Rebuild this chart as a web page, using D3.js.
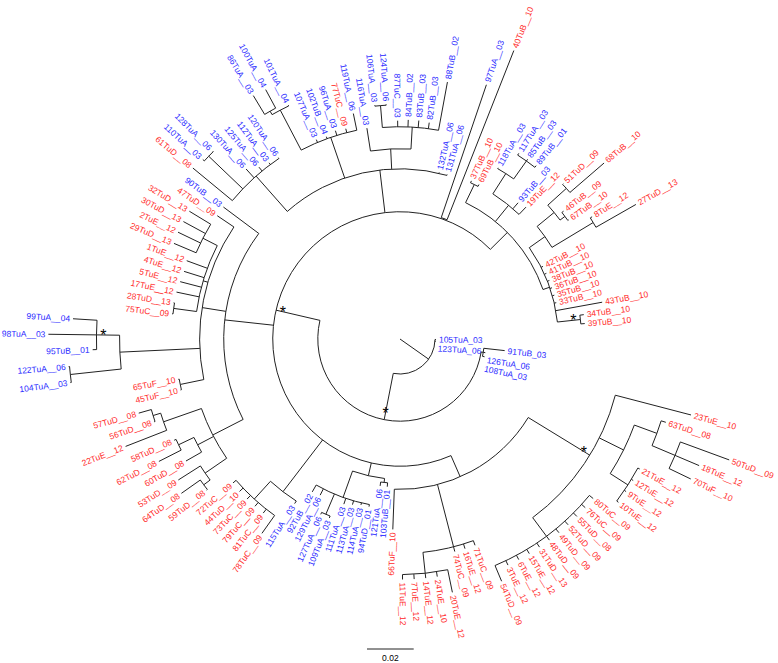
<!DOCTYPE html>
<html><head><meta charset="utf-8">
<script src="https://cdn.jsdelivr.net/npm/d3@7"></script>
<style>body{margin:0;background:#fff}svg{display:block}</style>
</head><body>
<svg id="chart" width="778" height="663"></svg>
<script>
// ---------- DATA (branch lengths in substitutions/site) ----------
const cladeLowerRight = "((23TuE__10:0.0335,((63TuD__08:0.0021,(50TuD__09:0.0223,18TuE__12:0.0112,70TuF__10:0.0103):0.0107):0.0103,(21TuE__12:0.0009,12TuE__12:0.0009,9TuE__12:0.0009,10TuE__12:0.0009):0.0090):0.0116,(80TuC__09:0.0021,76TuC__09:0.0021,55TuD__08:0.0021,52TuD__09:0.0021,49TuD__09:0.0021,48TuD__09:0.0021,31TuD__13:0.0021,15TuE__12:0.0021,6TuE__12:0.0021,3TuE__12:0.0021,54TuD__09:0.0073):0.0099)C23:0.0309,(71TuC__09:0.0021,16TuE__12:0.0021,74TuC__09:0.0021,(20TuE__12:0.0099,24TuE__10:0.0021,14TuE__12:0.0021,7TuE__12:0.0021,11TuE__12:0.0021):0.0090):0.0275,66TuF__10:0.0172):0.0099";
const cladeBottomBlue = "((103TuB__01:0.0017,121TuA__06:0.0017):0.0017,(94TuD__01:0.0009,114TuA__03:0.0009,113TuA__03:0.0017,111TuA__03:0.0026,(109TuA__03:0.0009,127TuA__06:0.0009):0.0094,129TuA__06:0.0030,92TuB__02:0.0034):0.0120):0.0056";
const cladeBottomRed = "(115TuA__03:0.0013,(78TuC__09:0.0094,81TuC__09:0.0021,79TuC__09:0.0021,73TuC__09:0.0021,44TuD__10:0.0021,72TuC__09:0.0017):0.0103):0.0279";
const cladeLeft = "((((59TuD__08:0.0004,64TuD__08:0.0099):0.0034,53TuD__09:0.0112):0.0112,(60TuD__08:0.0077,(62TuD__08:0.0107,58TuD__08:0.0009):0.0073):0.0077,(22TuE__12:0.0189,(56TuD__08:0.0004,57TuD__08:0.0056):0.0034):0.0172):0.0146,((45TuF__10:0.0004,65TuF__10:0.0004):0.0103,((104TuA__03:0.0004,122TuA__06:0.0004):0.0219,(95TuB__01:0.0017,98TuA__03:0.0206,99TuA__04:0.0103)P1:0.0099):0.0343,((75TuC__09:0.0004,28TuD__13:0.0004):0.0099,17TuE__12:0.0099,5TuE__12:0.0094,4TuE__12:0.0090,1TuE__12:0.0094,(29TuD__13:0.0103,2TuE__12:0.0107,30TuD__13:0.0107,32TuD__13:0.0107):0.0069):0.0021,47TuD__09:0.0086):0.0103,90TuB__03:0.0189):0.0210";
const cladeTop = "((61TuD__08:0.0219,(110TuA__03:0.0009,128TuA__06:0.0004):0.0202,130TuA__06:0.0051,125TuA__06:0.0021,112TuA__03:0.0009,120TuA__06:0.0004):0.0202,(((86TuA__03:0.0094,100TuA__04:0.0090):0.0017,101TuA__04:0.0004):0.0193,107TuA__03:0.0013,102TuB__04:0.0009,96TuA__03:0.0021,77TuC__09:0.0017,119TuA__06:0.0073):0.0184,(116TuA__03:0.0099,((106TuA__03:0.0004,124TuA__06:0.0004):0.0094,87TuC__03:0.0026,84TuB__02:0.0030,83TuB__03:0.0030,82TuB__03:0.0026,88TuB__02:0.0210):0.0094):0.0086,132TuA__06:0.0004,131TuA__06:0.0004):0.0184";
const cladeLong = "(97TuA__03:0.0601,40TuB__10:0.0779):0.0004";
const cladeTopRight = "((37TuB__10:0.0009,69TuB__10:0.0009):0.0086,((118TuA__03:0.0004,(117TuA__03:0.0009,85TuB__03:0.0009,89TuB__01:0.0009):0.0094):0.0103,93TuB__03:0.0034,19TuE__12:0.0043):0.0090,((((51TuD__09:0.0004,68TuB__10:0.0193):0.0107,(46TuB__09:0.0009,67TuB__10:0.0004):0.0026):0.0094,(8TuE__12:0.0009,27TuD__13:0.0197):0.0206):0.0082,42TuB__10:0.0009,41TuB__10:0.0009,38TuB__10:0.0009,36TuB__10:0.0009,35TuB__10:0.0009,33TuB__10:0.0009,43TuB__10:0.0202,(34TuB__10:0.0017,39TuB__10:0.0017)P34:0.0099):0.0030):0.0103";
const cladeInner = "(91TuB_03:0.0090,126TuA_06:0.0009,108TuA_03:0.0009):0.0009";
const rootTips = ["105TuA_03:0.0004", "123TuA_06:0.0004"];
const rootEdge = 0.0150, n2Edge = 0.0202, n3Edge = 0.0193;
const supportedNodes = ["N2", "N3", "P1", "C23", "P34"];
const scaleBarValue = 0.02;
const scaleBarLabel = ["0.02"];
const blueMaxYear = 6;

const treeNewick = "((" + rootTips.join(",") + ",(" + cladeInner + ",(" +
  [cladeLowerRight, cladeBottomBlue, cladeBottomRed, cladeLeft, cladeTop, cladeLong, cladeTopRight].join(",") +
  ")N3:" + n3Edge + ")N2:" + n2Edge + ")N1:" + rootEdge + ")root;";

// ---------- PARSER ----------
function parseNewick(s) {
  const tokens = s.split(/\s*(;|\(|\)|,|:)\s*/);
  const ancestors = []; let tree = {};
  for (let i = 0; i < tokens.length; i++) {
    const t = tokens[i];
    if (t === "(") { const sub = {}; tree.children = [sub]; ancestors.push(tree); tree = sub; }
    else if (t === ",") { const sub = {}; ancestors[ancestors.length - 1].children.push(sub); tree = sub; }
    else if (t === ")") { tree = ancestors.pop(); }
    else if (t === ":" || t === ";" || t === "") { }
    else {
      const prev = tokens[i - 1];
      if (prev === ":") tree.length = parseFloat(t); else tree.name = t;
    }
  }
  return tree;
}

// ---------- LAYOUT ----------
const cx = 400, cy = 339, rot = -0.6;
const svg = d3.select("#chart");
const root = d3.hierarchy(parseNewick(treeNewick));
root.eachBefore(n => { n.len = (n.parent ? n.parent.len : 0) + (n.data.length || 0); });
const nLeaves = root.leaves().length;
d3.cluster().size([360 * (nLeaves - 1) / nLeaves, 1]).separation(() => 1)(root);
const rScale = d3.scaleLinear().domain([0, scaleBarValue]).range([0, 46.7]);
root.each(n => { n.ang = n.x + rot; n.r = rScale(n.len); });
const rad = a => a * Math.PI / 180;
const pt = (a, r) => [cx + r * Math.cos(rad(a)), cy + r * Math.sin(rad(a))];

const g = svg.append("g");
const line = "#222";
// radial branches
root.descendants().filter(n => n.parent).forEach(n => {
  const p0 = pt(n.ang, n.parent.r), p1 = pt(n.ang, n.r);
  g.append("line").attr("x1", p0[0]).attr("y1", p0[1]).attr("x2", p1[0]).attr("y2", p1[1])
    .attr("stroke", line).attr("stroke-width", 1);
});
// arcs
root.descendants().filter(n => n.children && n.children.length > 1).forEach(n => {
  const a0 = n.children[0].ang, a1 = n.children[n.children.length - 1].ang;
  const p = d3.path();
  const s = pt(a0, n.r);
  p.moveTo(s[0], s[1]);
  p.arc(cx, cy, n.r, rad(a0), rad(a1), false);
  g.append("path").attr("d", p.toString()).attr("fill", "none").attr("stroke", line).attr("stroke-width", 1);
});

// labels
const font = "'Liberation Sans', Arial, Helvetica, sans-serif";
const colorOf = name => (parseInt(name.split("_").pop(), 10) <= blueMaxYear ? "#2b2bff" : "#ff2b2b");
const placed = [];
root.leaves().forEach(n => {
  const a = ((n.ang % 360) + 360) % 360;
  const flip = a > 90 && a < 270;
  const t = g.append("text").text(n.data.name)
    .attr("font-family", font).attr("font-size", 8.5).attr("fill", colorOf(n.data.name))
    .attr("dy", "0.35em");
  const w = t.node().getComputedTextLength();
  let pa = n.ang;
  const lr = n.r + 3;
  if (n.r < 130) {
    for (let k = 0; k < 80; k++) {
      const q = pt(pa, lr);
      const box = [q[0], q[1] - 4.3, q[0] + w, q[1] + 4.3];
      const hit = placed.some(b => box[0] < b[2] && box[2] > b[0] && box[1] < b[3] && box[3] > b[1]);
      if (!hit) break;
      pa += 0.5;
    }
    const q = pt(pa, lr);
    placed.push([q[0], q[1] - 4.3, q[0] + w, q[1] + 4.3]);
    t.attr("transform", `translate(${q[0]},${q[1]}) rotate(${n.ang})`).attr("text-anchor", "start");
  } else {
    const q = pt(n.ang, lr);
    t.attr("transform", `translate(${q[0]},${q[1]}) rotate(${flip ? n.ang + 180 : n.ang})`)
      .attr("text-anchor", flip ? "end" : "start");
  }
});

// support asterisks
root.descendants().filter(n => supportedNodes.includes(n.data.name)).forEach(n => {
  const p = pt(n.ang, n.r);
  const x = p[0] - 7 * Math.cos(rad(n.ang));
  const y = p[1] - 7 * Math.sin(rad(n.ang)) - 3;
  g.append("text").text("*").attr("x", x).attr("y", y + 9)
    .attr("text-anchor", "middle").attr("font-family", font).attr("font-size", 16).attr("fill", "#000");
});

// scale bar
const sbX = 367, sbY = 649;
g.append("line").attr("x1", sbX).attr("y1", sbY).attr("x2", sbX + rScale(scaleBarValue)).attr("y2", sbY)
  .attr("stroke", line).attr("stroke-width", 1);
g.append("text").text(scaleBarLabel[0]).attr("x", sbX + rScale(scaleBarValue) / 2).attr("y", sbY + 12)
  .attr("text-anchor", "middle").attr("font-family", font).attr("font-size", 8.5).attr("fill", "#000");
</script>
</body></html>
